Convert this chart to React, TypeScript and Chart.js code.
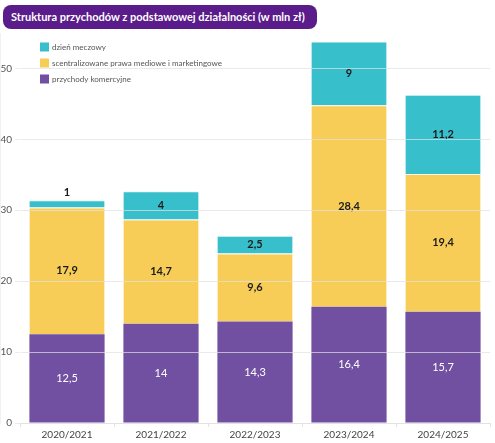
import { useEffect, useRef } from "react";
import { Chart, registerables } from "chart.js";

Chart.register(...registerables);

const seasons = ["2020/2021", "2021/2022", "2022/2023", "2023/2024", "2024/2025"];
const commercial = [12.5, 14, 14.3, 16.4, 15.7];
const mediaRights = [17.9, 14.7, 9.6, 28.4, 19.4];
const matchDay = [1, 4, 2.5, 9, 11.2];
const yTicks = [0, 10, 20, 30, 40, 50];

const PURPLE = "#7150a2";
const YELLOW = "#f7cd57";
const TEAL = "#37bfcb";
const FONT = "Lato, 'Noto Sans', sans-serif";

const fmt = (v: number) => String(v).replace(".", ",");

// labels inside each segment, small ones go above the bar
const valueLabels = {
  id: "valueLabels",
  afterDatasetsDraw(chart: any) {
    const ctx = chart.ctx;
    ctx.save();
    ctx.textAlign = "center";
    ctx.textBaseline = "middle";
    chart.data.datasets.forEach((ds: any, i: number) => {
      const meta = chart.getDatasetMeta(i);
      meta.data.forEach((bar: any, j: number) => {
        const v = ds.data[j];
        const h = Math.abs(bar.base - bar.y);
        let y = (bar.y + bar.base) / 2;
        if (h < 14) y = bar.y - 8;
        if (i === 0) {
          ctx.fillStyle = "#ffffff";
          ctx.font = `400 11px ${FONT}`;
        } else {
          ctx.fillStyle = "#1c1c1c";
          ctx.font = `700 11px ${FONT}`;
        }
        ctx.fillText(fmt(v), bar.x, y);
      });
    });
    ctx.restore();
  },
};

// legend drawn inside the chart area, top-left
const innerLegend = {
  id: "innerLegend",
  afterDraw(chart: any) {
    const ctx = chart.ctx;
    const items = [
      { label: "dzień meczowy", color: TEAL },
      { label: "scentralizowane prawa mediowe i marketingowe", color: YELLOW },
      { label: "przychody komercyjne", color: PURPLE },
    ];
    const x = chart.chartArea.left + 20;
    ctx.save();
    ctx.font = `400 8px ${FONT}`;
    ctx.textBaseline = "middle";
    ctx.textAlign = "left";
    items.forEach((it, k) => {
      const cy = 47 + k * 16;
      ctx.fillStyle = it.color;
      ctx.fillRect(x, cy - 4.5, 9, 9);
      ctx.fillStyle = "#555555";
      ctx.fillText(it.label, x + 12, cy);
    });
    ctx.restore();
  },
};

export default function App() {
  const canvasRef = useRef<HTMLCanvasElement>(null);
  const chartRef = useRef<Chart | null>(null);

  useEffect(() => {
    document.body.style.margin = "0";
    if (!canvasRef.current) return;
    if (chartRef.current) chartRef.current.destroy();
    const ctx = canvasRef.current.getContext("2d");
    if (!ctx) return;

    const segBorder = { top: 1, bottom: 0, left: 0, right: 0 };

    chartRef.current = new Chart(ctx, {
      type: "bar",
      data: {
        labels: seasons,
        datasets: [
          { label: "przychody komercyjne", data: commercial, backgroundColor: PURPLE, borderColor: "#ffffff", borderWidth: 0 },
          { label: "scentralizowane prawa mediowe i marketingowe", data: mediaRights, backgroundColor: YELLOW, borderColor: "#fdf3e0", borderWidth: segBorder },
          { label: "dzień meczowy", data: matchDay, backgroundColor: TEAL, borderColor: "#e8f8f8", borderWidth: segBorder },
        ],
      },
      options: {
        responsive: true,
        maintainAspectRatio: false,
        animation: false,
        layout: { padding: { top: 33, right: 5, left: 0, bottom: 0 } },
        datasets: { bar: { barPercentage: 0.8, categoryPercentage: 1, borderSkipped: false } },
        plugins: {
          legend: { display: false },
          tooltip: { enabled: false },
        },
        scales: {
          x: {
            stacked: true,
            grid: { display: true, drawOnChartArea: false, tickLength: 4, color: "#e3e3e3" },
            border: { color: "#e3e3e3" },
            ticks: { color: "#444444", font: { family: FONT, size: 10 }, padding: 2 },
            afterFit: (s: any) => { s.height = 20; },
          },
          y: {
            stacked: true,
            min: 0,
            max: 55,
            afterBuildTicks: (s: any) => { s.ticks = yTicks.map((v) => ({ value: v })); },
            grid: { color: "rgba(225,225,225,0.7)", z: 1, tickLength: 5 },
            border: { color: "#e3e3e3" },
            ticks: { color: "#555555", font: { family: FONT, size: 10 }, padding: 3 },
            afterFit: (s: any) => { s.width = 20; },
          },
        },
      },
      plugins: [valueLabels, innerLegend],
    });

    return () => {
      if (chartRef.current) {
        chartRef.current.destroy();
        chartRef.current = null;
      }
    };
  }, []);

  return (
    <div style={{ position: "relative", width: 495, height: 443, background: "#fff" }}>
      <div style={{ position: "absolute", inset: 0 }}>
        <canvas ref={canvasRef} />
      </div>
      <div
        style={{
          position: "absolute",
          left: 3,
          top: 5,
          width: 314,
          height: 24,
          borderRadius: 8,
          background: "#5a1c8a",
          color: "#fff",
          fontFamily: FONT,
          fontWeight: 700,
          fontSize: 11,
          lineHeight: "24px",
          paddingLeft: 8,
          boxSizing: "border-box",
          whiteSpace: "nowrap",
        }}
      >
        Struktura przychodów z podstawowej działalności (w mln zł)
      </div>
    </div>
  );
}
